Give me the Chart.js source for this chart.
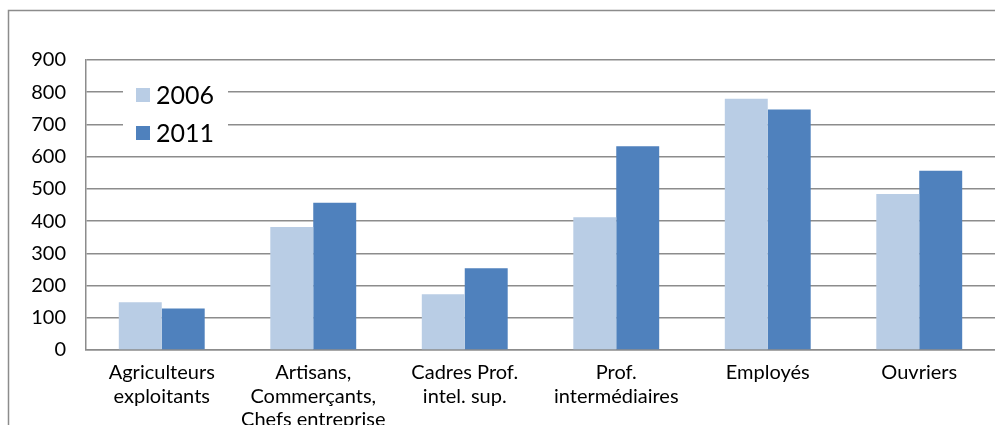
<!DOCTYPE html>
<html>
<head>
<meta charset="utf-8">
<script src="https://cdn.jsdelivr.net/npm/chart.js@4/dist/chart.umd.min.js"></script>
<style>
  html, body { margin: 0; padding: 0; background: #ffffff; }
  #wrap { position: relative; width: 995px; height: 425px; }
</style>
</head>
<body>
<div id="wrap"><canvas id="chart" width="995" height="425"></canvas></div>
<script>
// Actifs par catégorie socioprofessionnelle, 2006 et 2011
const categories = [
  ["Agriculteurs", "exploitants"],
  ["Artisans,", "Commerçants,", "Chefs entreprise"],
  ["Cadres Prof.", "intel. sup."],
  ["Prof.", "intermédiaires"],
  "Employés",
  "Ouvriers"
];
const seriesNames = ["2006", "2011"];
const values2006 = [148, 382, 173, 412, 780, 484];
const values2011 = [129, 457, 254, 632, 746, 556];
const yMax = 900;
const yStep = 100;

const FONT = "Lato, 'Open Sans', sans-serif";
const GRID = "#8c8c8c";

// Outer frame of the chart block (left and top edges)
const framePlugin = {
  id: "frame",
  beforeDraw(chart) {
    const ctx = chart.ctx;
    ctx.save();
    ctx.strokeStyle = GRID;
    ctx.lineWidth = 1.5;
    ctx.beginPath();
    ctx.moveTo(8.5, chart.height);
    ctx.lineTo(8.5, 10.5);
    ctx.lineTo(chart.width, 10.5);
    ctx.stroke();
    ctx.restore();
  }
};

// Legend box drawn inside the plot area, top-left
const insideLegend = {
  id: "insideLegend",
  afterDatasetsDraw(chart) {
    const ctx = chart.ctx;
    const area = chart.chartArea;
    const x0 = area.left + 37;
    const y0 = area.top + 17;
    const w = 105;
    const rowH = 38;
    ctx.save();
    ctx.fillStyle = "#ffffff";
    ctx.fillRect(x0, y0, w, rowH * chart.data.datasets.length);
    ctx.font = "25px " + FONT;
    ctx.textBaseline = "middle";
    chart.data.datasets.forEach((ds, i) => {
      const cy = y0 + 18 + i * rowH;
      ctx.fillStyle = ds.backgroundColor;
      ctx.fillRect(x0 + 13, cy - 7, 14, 14);
      ctx.fillStyle = "#000000";
      ctx.fillText(ds.label, x0 + 33, cy + 1);
    });
    ctx.restore();
  }
};

new Chart(document.getElementById("chart"), {
  type: "bar",
  data: {
    labels: categories,
    datasets: [
      { label: seriesNames[0], data: values2006, backgroundColor: "#b9cde5" },
      { label: seriesNames[1], data: values2011, backgroundColor: "#4f81bd" }
    ]
  },
  options: {
    responsive: false,
    animation: false,
    devicePixelRatio: 1,
    layout: { padding: { top: 60, left: 0, right: 0, bottom: 0 } },
    datasets: { bar: { categoryPercentage: 0.567, barPercentage: 1.0 } },
    plugins: {
      legend: { display: false },
      tooltip: { enabled: false },
      title: { display: false }
    },
    scales: {
      x: {
        grid: { display: false, drawTicks: false },
        border: { display: true, color: GRID, width: 1.5 },
        ticks: {
          color: "#000000",
          font: { family: FONT, size: 20, lineHeight: 1.17 },
          padding: 11,
          autoSkip: false,
          maxRotation: 0,
          minRotation: 0
        },
        afterFit(scale) { scale.height = 75; }
      },
      y: {
        min: 0,
        max: yMax,
        grid: { color: GRID, lineWidth: 1.5, drawTicks: false },
        border: { display: true, color: GRID, width: 1.5 },
        ticks: {
          stepSize: yStep,
          color: "#000000",
          font: { family: FONT, size: 20 },
          padding: 20
        },
        afterFit(scale) { scale.width = 86; }
      }
    }
  },
  plugins: [framePlugin, insideLegend]
});
</script>
</body>
</html>
